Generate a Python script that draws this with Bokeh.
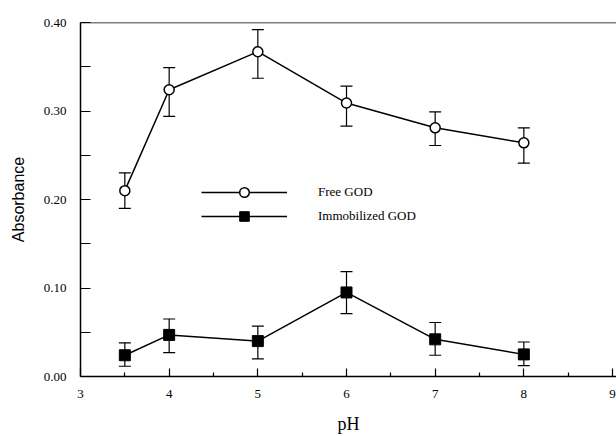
from bokeh.plotting import figure
from bokeh.models import (ColumnDataSource, Whisker, TeeHead, FixedTicker, Legend,
                          LegendItem, Span)
from bokeh.embed import file_html
from bokeh.resources import INLINE

# ---- data ----
ph = [3.5, 4, 5, 6, 7, 8]
free_god = [0.210, 0.324, 0.367, 0.309, 0.281, 0.264]
free_err_up = [0.020, 0.025, 0.025, 0.019, 0.018, 0.017]
free_err_lo = [0.020, 0.030, 0.030, 0.026, 0.020, 0.023]
immob_god = [0.024, 0.047, 0.040, 0.095, 0.042, 0.025]
immob_err_up = [0.014, 0.018, 0.017, 0.0235, 0.019, 0.014]
immob_err_lo = [0.0124, 0.020, 0.020, 0.024, 0.018, 0.0126]

x_ticks = [3, 4, 5, 6, 7, 8, 9]
x_minor = [3.5, 4.5, 5.5, 6.5, 7.5, 8.5]
y_ticks = [0.0, 0.1, 0.2, 0.3, 0.4]
y_tick_labels = ["0.00", "0.10", "0.20", "0.30", "0.40"]
y_minor = [0.05, 0.15, 0.25, 0.35]
series_names = ["Free GOD", "Immobilized GOD"]

src_free = ColumnDataSource(dict(
    x=ph, y=free_god,
    upper=[v + e for v, e in zip(free_god, free_err_up)],
    lower=[v - e for v, e in zip(free_god, free_err_lo)]))
src_imm = ColumnDataSource(dict(
    x=ph, y=immob_god,
    upper=[v + e for v, e in zip(immob_god, immob_err_up)],
    lower=[v - e for v, e in zip(immob_god, immob_err_lo)]))

p = figure(width=616, height=436, x_range=(3, 9.045), y_range=(0, 0.40),
           output_backend="svg", toolbar_location=None,
           min_border_left=80, min_border_right=0, min_border_top=22,
           min_border_bottom=58)
p.outline_line_color = None
p.xgrid.visible = False
p.ygrid.visible = False
p.background_fill_color = "white"
p.border_fill_color = "white"

serif = "Liberation Serif"

# axes
xa = p.xaxis[0]
xa.ticker = FixedTicker(ticks=x_ticks, minor_ticks=x_minor)
xa.axis_line_width = 1.5
xa.axis_line_color = "black"
xa.major_tick_in = 8
xa.major_tick_out = 0
xa.minor_tick_in = 4
xa.minor_tick_out = 0
xa.major_tick_line_width = 1.2
xa.minor_tick_line_width = 1.2
xa.major_tick_line_color = "black"
xa.minor_tick_line_color = "black"
xa.major_label_text_font = serif
xa.major_label_text_font_size = "13px"
xa.major_label_text_color = "black"
xa.major_label_standoff = 13
xa.axis_label = "pH"
xa.axis_label_text_font = serif
xa.axis_label_text_font_size = "18px"
xa.axis_label_text_font_style = "normal"
xa.axis_label_text_color = "black"
xa.axis_label_standoff = 13

ya = p.yaxis[0]
ya.ticker = FixedTicker(ticks=y_ticks, minor_ticks=y_minor)
ya.major_label_overrides = {t: l for t, l in zip(y_ticks, y_tick_labels)}
ya.axis_line_width = 1.5
ya.axis_line_color = "black"
ya.major_tick_in = 10
ya.major_tick_out = 0
ya.minor_tick_in = 10
ya.minor_tick_out = 0
ya.major_tick_line_width = 1.2
ya.minor_tick_line_width = 1.2
ya.major_tick_line_color = "black"
ya.minor_tick_line_color = "black"
ya.major_label_text_font = serif
ya.major_label_text_font_size = "13px"
ya.major_label_text_color = "black"
ya.major_label_standoff = 14
ya.axis_label = "Absorbance"
ya.axis_label_text_font = "Liberation Sans"
ya.axis_label_text_font_size = "16px"
ya.axis_label_text_font_style = "normal"
ya.axis_label_text_color = "black"
ya.axis_label_standoff = 14

# top border
p.add_layout(Span(location=0.40, dimension="width", line_color="black", line_width=1.5))

# error bars
for src in (src_free, src_imm):
    w = Whisker(source=src, base="x", upper="upper", lower="lower",
                line_color="black", line_width=1.2,
                upper_head=TeeHead(size=12, line_color="black", line_width=1.2),
                lower_head=TeeHead(size=12, line_color="black", line_width=1.2))
    p.add_layout(w)

l1 = p.line("x", "y", source=src_free, line_color="black", line_width=1.5)
m1 = p.scatter("x", "y", source=src_free, marker="circle", size=10,
               fill_color="white", line_color="black", line_width=1.5)
l2 = p.line("x", "y", source=src_imm, line_color="black", line_width=1.5)
m2 = p.scatter("x", "y", source=src_imm, marker="square", size=11,
               fill_color="black", line_color="black", line_width=1)

legend = Legend(items=[LegendItem(label=series_names[0], renderers=[l1, m1]),
                       LegendItem(label=series_names[1], renderers=[l2, m2])],
                location=(121, 148))
legend.glyph_width = 86
legend.glyph_height = 24
legend.label_standoff = 31
legend.spacing = 0
legend.padding = 0
legend.margin = 0
legend.border_line_color = None
legend.background_fill_alpha = 0
legend.label_text_font = serif
legend.label_text_font_size = "13px"
legend.label_text_color = "black"
legend.label_height = 24
p.add_layout(legend)

open("out.html", "w").write(file_html(p, INLINE))
